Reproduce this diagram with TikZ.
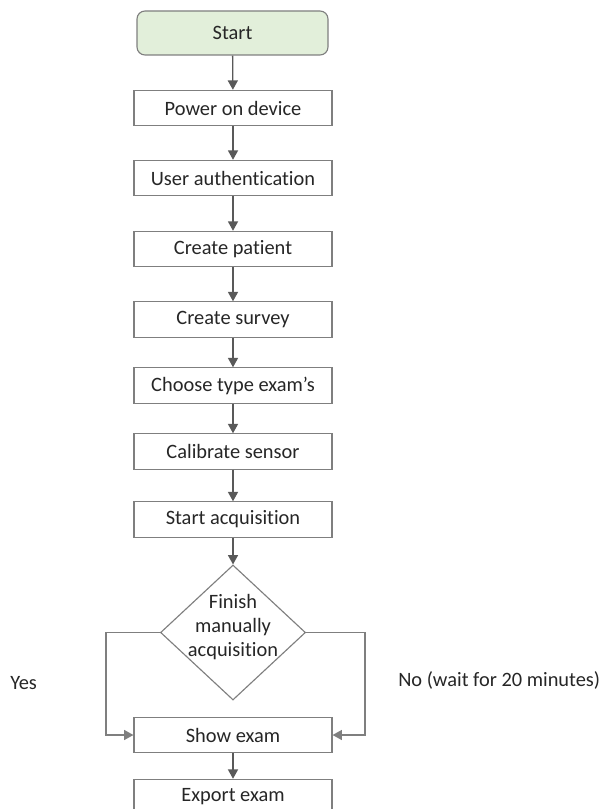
\documentclass[tikz,border=0pt]{standalone}
\usepackage{fontspec}
\setmainfont[Ligatures=CommonOff]{Carlito}
\usetikzlibrary{shapes.geometric,arrows.meta}
\definecolor{boxline}{HTML}{7F7F7F}
\definecolor{arrowline}{HTML}{595959}
\definecolor{startfill}{HTML}{E2EFDA}
\tikzset{
  stepbox/.style={draw=boxline, line width=0.85pt, fill=white, minimum width=148.5pt,
    minimum height=26.5pt, inner sep=0pt, font=\fontsize{15.3}{17}\selectfont, text=black!85},
  startbox/.style={stepbox, fill=startfill, rounded corners=6pt, minimum width=143.25pt, minimum height=33pt},
  decision/.style={draw=boxline, line width=0.85pt, fill=white, diamond, aspect=1.07,
    minimum width=108.75pt, minimum height=101.25pt, inner sep=0pt},
  decisiontext/.style={align=center, inner sep=0pt,
    font=\fontsize{15.3}{17.8}\selectfont, text=black!85},
  flow/.style={draw=arrowline, line width=1pt, -{Triangle[length=7pt,width=7.5pt]}},
  sidelabel/.style={font=\fontsize{15.3}{17}\selectfont, text=black!85, anchor=west, inner sep=0pt}
}
\begin{document}
\begin{tikzpicture}[x=0.75pt,y=-0.75pt]
  \useasboundingbox (0,0) rectangle (606,809);
  \clip (0,0) rectangle (606,809);
  \node[startbox] (start) at (232.5,33) {Start};
  \node[stepbox] (power) at (233,108) {Power on device};
  \node[stepbox] (auth) at (233,178) {User authentication};
  \node[stepbox] (patient) at (233,249) {Create patient};
  \node[stepbox] (survey) at (233,319.5) {Create survey};
  \node[stepbox] (type) at (233,385.5) {Choose type exam’s};
  \node[stepbox] (calib) at (233,451.5) {Calibrate sensor};
  \node[stepbox] (acq) at (233,519.5) {Start acquisition};
  \node[decision] (finish) at (233,632.5) {};
  \node[decisiontext] (finishtext) at (233,627) {Finish\\manually\\acquisition};
  \node[stepbox] (show) at (233,735) {Show exam};
  \node[stepbox] (export) at (233,797) {Export exam};
  \coordinate (lcorner) at (106,632.5);
  \coordinate (rcorner) at (365,632.5);
  \node[sidelabel] (yes) at (10,683) {Yes};
  \node[sidelabel] (no) at (398,680) {No (wait for 20 minutes)};
  \draw[flow] (start) -- (power);
  \draw[flow] (power) -- (auth);
  \draw[flow] (auth) -- (patient);
  \draw[flow] (patient) -- (survey);
  \draw[flow] (survey) -- (type);
  \draw[flow] (type) -- (calib);
  \draw[flow] (calib) -- (acq);
  \draw[flow] (acq) -- (finish);
  \draw[flow, draw=boxline] (finish.west) -- (lcorner) |- (show.west);
  \draw[flow, draw=boxline] (finish.east) -- (rcorner) |- (show.east);
  \draw[flow] (show) -- (export);
\end{tikzpicture}
\end{document}
